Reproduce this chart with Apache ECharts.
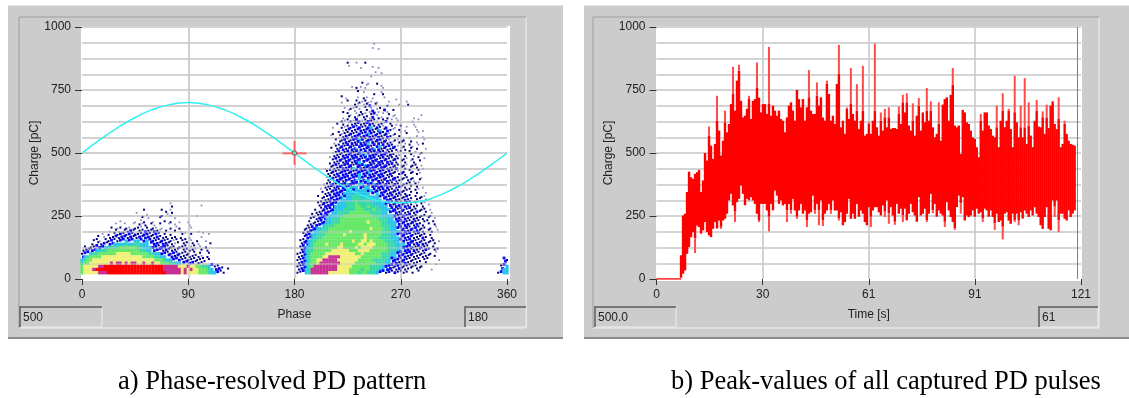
<!DOCTYPE html>
<html>
<head>
<meta charset="utf-8">
<title>PD pattern</title>
<script src="https://cdn.jsdelivr.net/npm/echarts@6/dist/echarts.min.js"></script>
<style>
  html, body { margin: 0; padding: 0; background: #fff; }
  #chart { width: 1129px; height: 398px; }
</style>
</head>
<body>
<div id="chart"></div>
<script>
// tick labels
const chargeTicks = [0, 250, 500, 750, 1000]
const phaseTicks = [0, 90, 180, 270, 360]
const timeTicks = [0, 30, 61, 91, 121]

// a) density, one string per charge row, top row first, bottom row is 25 pC
// n navy, b blue, l pale blue, c cyan, a teal, g green, y yellow, m magenta, r red
const cellPhase = 2.5
const cellCharge = 12.5
const leftStartPhase = 0
const leftRows = [
  "..............................l",
  "..............................n.........l",
  ".....................n.....n..l",
  "..................l.........n.n",
  "......................l....n.ll........l",
  "....................n.l...n....l",
  ".............l....l.ln..l...n.n..l..l",
  "...........l..l..l.nln.nl.n..l.l....l",
  "..........n.ln.nl.nnl.n.nl.l..n.ln...l",
  ".........l.nl.nnbn.nnbnnbnl.n..n.l.....l",
  ".......l.n.nnbnnbnbnnbbnnbn.n.n...nl.n...l.l",
  ".....n.l.nnbnbbnbnnbnbbnnbnnn.nn.n..l...l",
  "....nnl.nnbnnbbcbbccbbcbbnnbnnnln.nn.l.n..l",
  "...n.nnbnbbccccaccaacccbbbnbbnnln.nn.n.l...n",
  ".n.nnbbbccaaaggggggaacccbbnbbnnn.nnn.ln.l.n",
  "nnnbbccaagggggggggggaaccbbbnbnnnn.nnnnl.n.n",
  "nbbcaaggggggyyyyyggggggaaccbbnnbnnnnn.n.n..n",
  "bcaggggyyyyyyyyyyyyyyggggaaccbbnbnnnnnnnl.n",
  "caggyyyyyyyyyyyyyyyyyyyyygggaccbbbnnnnnnnn.n",
  "aggyyyyyyymymmymymmyymyymyygggaaccbbbbnnnn",
  "gyyyyymmrrrrrrrrrrrrrrrrrrrrmmmmmyyymyyggaacbnn",
  "gyyymrrrrrrrrrrrrrrrrrrrrrrrmmmmmmymymyygggacbbn.n",
  "gyyyyymmmrrrrrrrrrrrrrrrrrrrrmmmmmymyyyygggaccbnn"
]
const rightStartPhase = 182.5
const rightRows = [
  "..........................l",
  ".........................l.l",
  "",
  "",
  "",
  "",
  ".................n..l..n",
  ".................l...l...l.l",
  "",
  "..........................l.l",
  ".........................l",
  "",
  "......................n.l..n",
  "..................l..l.l....l",
  "....................n..l.....l",
  "....................n.l.....l",
  "...............n..........n..n",
  "................l...l.nl.l...l...l",
  "...............l.n..nnlnll.l...l.....l",
  "...................nl.lnb.n...n...l..n",
  "................l.nlnl.n.l.ln",
  "...............n.l.l.n.nlb.l.bl.n",
  ".................nl.lnnl.nbl.l.n.l........l",
  "...............l.n.nl.nnlb.nl.n.ll.....l",
  "...............nlnnlbnlnbnnl.nb.l.l....l.l",
  ".............n.n.lnnbnnbbnlnnl.n.l.....l",
  "............l..nlnnbnbnnbcnbnlb.nl.n.l..l",
  "...............lnbnnbbnbbnnbcnbnl.n.l...l.l",
  "............n.nlnnbnnbnbcbnnbnbl.n.l.n...l",
  "...........l..nnbnnbbnbbbnbbnnbnl.n.....l.l",
  ".............nlnbnnbbcbnbbnbbnnl.nl.n.l....l",
  "............l.nnbnbnbbnbcbnbnbnnl.nnl.n.l.n",
  ".............nnbnbbnbbbbbnbbcbnbnnl.n.nl.l",
  "...........n.nnbnnbbcbnbbbcbnbnnbn.ln.n.n..l",
  "............lnbnnbbnbbcbbnbbbnbnn.lnl.n.l.n",
  "............nnnbnbbbnbbcbbbnbbnbnnl.n.nl.l",
  "...........lnbnnbbnbbbnbbbbnnbbnnbn.nl.n.n.l",
  "............nnbnbbnbbcbbnbbbbnbnnn.nn.ln.n",
  "...........nnbnnbbbnbbbcbbnbbnbnbnn.nl.nn.l",
  ".........l.nnnbbnbbcbbnbbbbnbbnnnb.nn.n.n.l",
  "..........nnbnnbbbbnbbbbcbbnbbnbnnl.n.nn.n",
  "..........nnnbnbbnbbbcbbbnbbbnnbn.nbn.n.nl",
  "..........lnbnbbbbnbbcbbbbbnbbnnnbn.nn.n..l",
  "..........nnnbbnbbbbcbbccbbbnbbnbnnn.nnl.n",
  ".........lnnbnbbbcbbbccbbbcbbnbnnbn.nnn.nl",
  ".........nnbnbbbbbcccbbccbbbbnbnnnbnn.n.n.l",
  "........l.nnbbnbbccbccccbcbbnbbnnbn.nnn.nl",
  "........nnnnbbbbccccaccccbbcbbnbnnbnn.n.n..l",
  ".......n.nnbnbbcbccaaaccacccbbbnbbnnnbn.n.nl",
  "........nnnbbbbccccaaaaaaccccbbbnbnnbnn.nn.l",
  ".......nnbnbbbcccaaagaaaaaccccbbnbnnnbn.n.nl",
  ".......nnbbbbccccaaaggaagaaacccbnbbnbnnnn.n.l",
  "......n.nbnbbcccaaaagggaaagaacccbbnbnnbnn.nn.l",
  "......nnnbbbccaaaagggggggaaaaccbbbnbnnnnbn.n.l",
  ".....nlnbbbcccaaggggggggggaaaccccbnbbnbnn.nn.n",
  "....nnnbbbccaaagggggggggggggaaaccbbnbnnbnnn.n.l",
  "....n.nnbbccaaagggggggggyggggaacccbbbnnbnn.nn.n",
  "...nnnbbbcaaaggggggggggggggggaaaccbnbbnnbnn.n.n",
  "...nnbbccaaggggggggggggggyggggaaccbbnbnnbnnn.n.l",
  "..nnbbccaaagggggggyggggggggggaaacccbbnbnbnn.nn.l",
  "..nbbccaaaggggggyggggggygggggaaaccbbbnbnnbnn.n",
  "..nbbcaaaggggggggggggggyggggaaaacccbbnbnnnbn.n",
  ".nnbcaaggggggggggggyggyygyggggaaaccbbnbbnnnn.nn.l",
  ".nbbcaggggyggggygggggyygyyyggggaaacccbbnbnbnn.n",
  ".nbccaggggggggyyggggygyyyygggggaaaccbbbnnbnnn.n",
  ".nbcaaggggggyyyyyygggyyyyggggggaaaccbbnbnnnbn.nn",
  "nnbcagggggyyyyyyyyyyggyggggggaaaccbbnbbnnnnn.n.l",
  "nnbcaggggyymmmmyyyyyyygggggggaaaccbbbnbnnnnnn.n",
  "nnbcaggyymmmmmyyyyyyygggggaaaaacbbbnbnnnnn.nn...l",
  "nbbcaggymmmmmmmyyyyygggggggaaaccbbnbbnnnnn.n",
  "nnbcagmmmmmmmmyyyyyggggggaaaacbbbnbnnnnnn.n....l",
  "nbbcammmmmmmmmyyyyggggaggaaaccbbnnbnnnn.nn...l",
  "nnbcammmmmmyyyyyyygggaggaaacbbnbnbnnnn.n.n"
]
const edgeStartPhase = 352.5
const edgeRows = [
  "..bn",
  "..bn",
  ".nbc",
  ".bcc",
  "nbcc"
]

// carrier wave on the phase plot
const wavePhase = [0, 15, 30, 45, 60, 75, 90, 105, 120, 135, 150, 165, 180, 195, 210, 225, 240, 255, 270, 285, 300, 315, 330, 345, 360]
const waveCharge = [500, 552, 600, 641, 673, 693, 700, 693, 673, 641, 600, 552, 500, 448, 400, 359, 327, 307, 303, 307, 327, 359, 400, 448, 500]
const cursorPhase = 180
const cursorCharge = 500

// b) highest and lowest pulse per sample, sampled from 7 s on
const sampleStart = 7
const sampleStep = 0.5695
const pulseUpper = [
  94,252,259,345,426,404,397,417,424,433,
  345,391,500,470,605,529,477,536,727,589,
  490,549,668,582,615,694,842,668,787,850,
  707,641,648,675,727,635,707,714,859,720,
  661,694,694,655,921,648,688,668,648,668,
  635,628,582,641,688,701,668,628,750,714,
  681,714,628,681,829,668,655,655,780,688,
  721,641,628,787,734,628,648,615,774,929,
  602,628,576,681,635,837,655,628,773,595,
  628,846,569,576,622,576,628,934,
  602,569,661,589,675,602,681,595,599,599,
  595,684,615,731,661,737,609,589,697,569,
  648,718,589,661,622,758,628,705,602,562,
  576,701,549,692,714,721,628,731,837,609,
  602,609,496,671,661,622,615,589,562,556,
  523,483,655,589,661,661,609,595,569,562,
  688,523,628,737,602,628,675,595,523,807,
  622,562,688,562,797,536,701,569,523,628,
  710,605,602,665,576,692,599,688,705,615,
  595,721,523,536,628,576,549,536,533,529
]
const pulseLower = [
  5,21,34,100,127,166,186,103,212,206,
  180,193,226,186,173,166,199,226,199,232,
  199,232,239,259,312,338,292,226,305,318,
  371,338,292,318,312,325,312,298,259,226,
  298,298,298,272,189,298,272,351,331,298,
  312,292,298,226,298,259,318,272,239,272,
  298,259,272,206,259,265,331,259,298,213,
  312,210,259,272,298,259,312,272,272,232,
  265,213,226,259,318,239,259,239,298,246,
  272,259,226,213,285,206,272,285,
  285,265,252,292,246,312,219,285,252,215,
  298,259,279,226,279,232,259,298,265,252,
  226,325,252,259,279,226,259,338,261,298,
  246,272,259,252,206,305,272,246,226,195,
  285,331,259,325,232,252,246,252,272,246,
  279,259,265,226,279,272,246,272,246,195,
  259,226,232,157,259,265,232,219,259,226,
  259,213,265,239,272,259,246,272,252,285,
  259,246,213,199,246,285,199,193,312,246,
  312,186,259,259,239,232,272,246,259,272
]
const idleTime = [0, 7]
const idleCharge = [0, 0]
const timeCursor = 120

const levelColors = {
  n: '#000080', b: '#0808f0', l: '#8c8cc0', c: '#28c4ec', a: '#38d8a8',
  g: '#68e868', y: '#f0f078', m: '#c83094', r: '#ff0000'
}
const dotSizes = { n: 2, b: 2.8, l: 1.8 }
// the sparse levels are single dots, the rest fill the cell
const sparseLevels = 'nbl'

function rowsToCells(rows, startPhase) {
  const cells = []
  rows.forEach((row, r) => {
    const charge = 25 + cellCharge * (rows.length - 1 - r)
    row.split('').forEach((level, c) => {
      if (level === '.') return
      // loosen the lattice of the sparse dots so it does not read as a grid
      const sparse = sparseLevels.includes(level)
      cells.push([
        startPhase + c * cellPhase + (sparse && r % 2 ? cellPhase / 2 : 0),
        charge + (sparse ? (c % 3) * cellCharge / 3 : 0),
        level
      ])
    })
  })
  return cells
}

const densityCells = [].concat(
  rowsToCells(leftRows, leftStartPhase),
  rowsToCells(rightRows, rightStartPhase),
  rowsToCells(edgeRows, edgeStartPhase)
)
const pulseTimes = pulseUpper.map((q, i) => sampleStart + i * sampleStep)

const gridLine = '#c6c6c6'
const labelFont = { color: '#222', fontSize: 12, fontFamily: 'Liberation Sans' }

function panel(x, y, w, h, inX, inY, inW, inH) {
  return [
    { type: 'rect', z: -5, shape: { x: x, y: y, width: w, height: h }, style: { fill: '#cccccc' } },
    { type: 'rect', z: -5, shape: { x: x, y: y, width: w, height: 1 }, style: { fill: '#e6e6e6' } },
    { type: 'rect', z: -5, shape: { x: x, y: y + h - 1, width: w, height: 2 }, style: { fill: '#8a8a8a' } },
    { type: 'rect', z: -4, shape: { x: inX, y: inY, width: inW, height: inH }, style: { fill: '#cccccc', stroke: '#f0f0f0', lineWidth: 1 } },
    { type: 'polyline', z: -4, shape: { points: [[inX, inY + inH], [inX, inY], [inX + inW, inY]] }, style: { stroke: '#8c8c8c', lineWidth: 1, fill: null } }
  ]
}
function readout(x, y, w, h, text) {
  return [
    { type: 'rect', z: -3, shape: { x: x, y: y, width: w, height: h }, style: { fill: '#cccccc', stroke: '#eeeeee', lineWidth: 1 } },
    { type: 'polyline', z: -3, shape: { points: [[x, y + h], [x, y], [x + w, y]] }, style: { stroke: '#555', lineWidth: 1.5, fill: null } },
    { type: 'text', z: -3, x: x + 3, y: y + 5, style: { text: text, fill: '#222', fontSize: 12, fontFamily: 'Liberation Sans' } }
  ]
}
function plate(x, y, w, h) {
  return { type: 'rect', z: -2, shape: { x: x, y: y, width: w, height: h }, style: { fill: '#ffffff' } }
}
function caption(x, text) {
  return { type: 'text', z: -3, x: x, y: 369, style: { text: text, fill: '#000', fontSize: 26.5, fontFamily: 'Liberation Serif' } }
}
function chargeAxis(gridIndex) {
  return {
    type: 'value', gridIndex: gridIndex, min: 0, max: 1000, interval: 250, offset: 1,
    name: 'Charge [pC]', nameLocation: 'middle', nameGap: 40, nameTextStyle: labelFont,
    axisLine: { show: false },
    axisTick: { length: 7, lineStyle: { color: '#333' } },
    axisLabel: Object.assign({ margin: 10, formatter: v => chargeTicks.includes(v) ? v : '' }, labelFont),
    splitLine: { showMinLine: false, lineStyle: { color: gridLine, width: 1.5 } },
    minorTick: { show: false, splitNumber: 4 },
    minorSplitLine: { show: true, lineStyle: { color: gridLine, width: 1.5 } }
  }
}
function bottomAxis(gridIndex, max, interval, ticks, name) {
  return {
    type: 'value', gridIndex: gridIndex, min: 0, max: max, interval: interval, offset: 2,
    name: name, nameLocation: 'middle', nameGap: 28, nameTextStyle: labelFont,
    axisLine: { show: false },
    axisTick: { length: 6, lineStyle: { color: '#333' } },
    axisLabel: Object.assign({ margin: 8, showMinLabel: true, showMaxLabel: true, formatter: (v, i) => ticks[i] }, labelFont),
    splitLine: { show: true, showMinLine: false, showMaxLine: false, lineStyle: { color: gridLine, width: 1.5 } }
  }
}

// solid body of a sample, with the thin tips that stick out past its neighbours paler
function renderPulse(params, api) {
  const i = params.dataIndex
  const t = api.value(0)
  const lower = api.value(1)
  const upper = api.value(2)
  const shoulder = Math.min(upper, Math.max(pulseUpper[i - 1] || 0, pulseUpper[i + 1] || 0) + 40)
  const floor = Math.max(lower, Math.min(pulseLower[i - 1] === undefined ? lower : pulseLower[i - 1], pulseLower[i + 1] === undefined ? lower : pulseLower[i + 1]) - 25)
  const box = (from, to, width, color) => {
    const a = api.coord([t, to])
    const b = api.coord([t, from])
    return { type: 'rect', shape: { x: a[0] - width / 2, y: a[1], width: width, height: b[1] - a[1] }, style: { fill: color } }
  }
  return {
    type: 'group',
    children: [
      box(floor, shoulder, 2.4, '#ff0000'),
      box(shoulder, upper, 2, '#ff4a4a'),
      box(lower, floor, 2, '#ff4a4a')
    ]
  }
}

const chart = echarts.init(document.getElementById('chart'), null, { renderer: 'canvas' })
chart.setOption({
  animation: false,
  backgroundColor: '#ffffff',
  grid: [
    { left: 82, top: 27, width: 425, height: 252 },
    { left: 656.5, top: 27, width: 424.5, height: 252 }
  ],
  xAxis: [
    bottomAxis(0, 360, 90, phaseTicks, 'Phase'),
    bottomAxis(1, 121, 30.25, timeTicks, 'Time [s]')
  ],
  yAxis: [chargeAxis(0), chargeAxis(1)],
  graphic: { elements: [].concat(
    panel(8, 5, 555, 333, 19, 17, 507, 311),
    panel(584, 5, 545, 333, 593, 17, 506, 311),
    readout(20, 307, 82, 20, '500'),
    readout(465, 307, 61, 20, '180'),
    readout(595, 307, 81, 20, '500.0'),
    readout(1039, 307, 59, 20, '61'),
    plate(81, 26, 429, 255),
    plate(656, 26, 426, 255),
    caption(118, 'a) Phase-resolved PD pattern'),
    caption(671, 'b) Peak-values of all captured PD pulses')
  ) },
  series: [
    {
      type: 'scatter', xAxisIndex: 0, yAxisIndex: 0, z: 2, silent: true,
      symbol: 'rect',
      symbolSize: v => dotSizes[v[2]] || [3.2, 3.4],
      itemStyle: { opacity: 1, color: p => levelColors[p.value[2]] },
      data: densityCells,
      // the plot's grid shows through the dots in the original
      markLine: {
        silent: true, symbol: 'none', label: { show: false }, z: 3,
        lineStyle: { type: 'solid', color: 'rgba(205,205,205,0.55)', width: 1.5 },
        data: [62.5, 125, 187.5, 250, 312.5, 375, 437.5, 500, 562.5, 625, 687.5].map(q => ({ yAxis: q }))
          .concat([90, 180, 270].map(p => ({ xAxis: p })))
      }
    },
    {
      type: 'line', xAxisIndex: 0, yAxisIndex: 0, z: 4, silent: true,
      showSymbol: false, smooth: true,
      lineStyle: { color: '#30f0f0', width: 1.5 },
      data: wavePhase.map((p, i) => [p, waveCharge[i]])
    },
    {
      type: 'scatter', xAxisIndex: 0, yAxisIndex: 0, z: 5, silent: true,
      symbol: 'path://M0 11H23V12.6H0Z M10.7 0H12.3V23H10.7Z', symbolSize: 24,
      itemStyle: { color: '#ff5a5a', opacity: 1 },
      data: [[cursorPhase, cursorCharge]]
    },
    {
      type: 'scatter', xAxisIndex: 0, yAxisIndex: 0, z: 6, silent: true,
      symbolSize: 4.5,
      itemStyle: { color: '#70d8d8', borderColor: '#a04848', borderWidth: 1, opacity: 1 },
      data: [[cursorPhase, cursorCharge]]
    },
    {
      type: 'custom', xAxisIndex: 1, yAxisIndex: 1, z: 2, silent: true,
      renderItem: renderPulse,
      encode: { x: 0, y: [1, 2] },
      data: pulseTimes.map((t, i) => [t, pulseLower[i], pulseUpper[i]])
    },
    {
      type: 'line', xAxisIndex: 1, yAxisIndex: 1, z: 3, silent: true,
      showSymbol: false, lineStyle: { color: '#ff0000', width: 1.5 },
      data: idleTime.map((t, i) => [t, idleCharge[i]]),
      markLine: {
        silent: true, symbol: 'none', label: { show: false },
        lineStyle: { type: 'solid', color: '#808080', width: 1 },
        data: [{ xAxis: timeCursor }]
      }
    }
  ]
})
</script>
</body>
</html>
